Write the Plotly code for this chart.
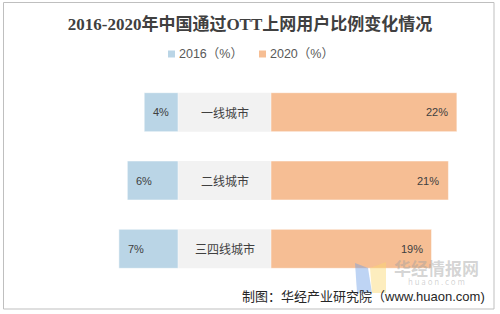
import plotly.graph_objects as go

# ---------------- data ----------------
categories = ["一线城市", "二线城市", "三四线城市"]
series_names = ["2016（%）", "2020（%）"]
values_2016 = [4, 6, 7]
values_2020 = [22, 21, 19]
title_text = "2016-2020年中国通过OTT上网用户比例变化情况"
source_text = "制图：华经产业研究院（www.huaon.com)"

# ---------------- style ----------------
GAP = 11.0               # width of the central label box (in % units)
BLUE = "#bad5e6"
ORANGE = "#f6be94"
GREY = "#f2f2f2"
TXT = "#404040"
W, H = 500, 314
ML, MR, MT, MB = 0, 0, 78, 31
PX_PER_UNIT = 8.45
CENTER_PX = 224.5
PLOT_H = H - MT - MB


def xp(px):
    return (px - ML) / (W - ML - MR)


def yp(py):
    return (H - MB - py) / PLOT_H


fig = go.Figure()

# central grey label box
fig.add_trace(go.Bar(
    y=categories, x=[GAP] * len(categories), base=-GAP / 2,
    orientation="h", marker=dict(color=GREY, line=dict(width=0)),
    width=0.57, showlegend=False, hoverinfo="skip"))

# 2016 bars (to the left)
fig.add_trace(go.Bar(
    y=categories, x=[-v for v in values_2016], base=-GAP / 2,
    orientation="h", name=series_names[0],
    marker=dict(color=BLUE, line=dict(color="white", width=0.5)),
    width=0.57, showlegend=False))

# 2020 bars (to the right)
fig.add_trace(go.Bar(
    y=categories, x=values_2020, base=GAP / 2,
    orientation="h", name=series_names[1],
    marker=dict(color=ORANGE, line=dict(color="white", width=0.5)),
    width=0.57, showlegend=False))

annotations = []
for c, v in zip(categories, values_2016):
    annotations.append(dict(x=-(GAP / 2 + v), y=c, xref="x", yref="y",
                            text=f"{v}%", showarrow=False, xanchor="left",
                            xshift=7, font=dict(size=11, color=TXT,
                                                family="Liberation Sans, Arial")))
for c, v in zip(categories, values_2020):
    annotations.append(dict(x=GAP / 2 + v, y=c, xref="x", yref="y",
                            text=f"{v}%", showarrow=False, xanchor="right",
                            xshift=-7, font=dict(size=11, color=TXT,
                                                 family="Liberation Sans, Arial")))
for c in categories:
    annotations.append(dict(x=0, y=c, xref="x", yref="y", text=c,
                            showarrow=False, xanchor="center",
                            font=dict(size=12, color=TXT,
                                      family="Noto Sans CJK SC")))

# legend (custom, tight like the reference)
shapes = []
leg_items = [(series_names[0], BLUE, 168), (series_names[1], ORANGE, 259)]
for name, col, px in leg_items:
    shapes.append(dict(type="rect", xref="paper", yref="paper",
                       x0=xp(px), x1=xp(px + 7), y0=yp(57.5), y1=yp(50.5),
                       fillcolor=col, line=dict(width=0)))
    annotations.append(dict(x=xp(px + 9), y=yp(54), xref="paper", yref="paper",
                            text=name, showarrow=False, xanchor="left",
                            yanchor="middle",
                            font=dict(size=12.5, color="#595959",
                                      family="Liberation Sans, Noto Sans CJK SC")))

# source
annotations.append(dict(x=xp(487), y=yp(296), xref="paper", yref="paper",
                        text=source_text, showarrow=False, xanchor="right",
                        yanchor="middle",
                        font=dict(size=13, color="#262626",
                                  family="Liberation Sans, Noto Sans CJK SC")))

# watermark (single two-line text block, tight line spacing)
annotations.append(dict(x=xp(436), y=yp(288), xref="paper", yref="paper",
                        text="<span style='font-size:17px'><b>华经情报网</b></span><br>h u a o n . c o m",
                        showarrow=False, xanchor="center", yanchor="bottom",
                        align="center", borderpad=0,
                        font=dict(size=8, color="rgba(160,160,160,0.45)",
                                  family="Noto Sans CJK SC")))
shapes.append(dict(type="path", xref="paper", yref="paper",
                   path=f"M {xp(355)} {yp(263)} L {xp(368)} {yp(268)} "
                        f"L {xp(372)} {yp(293)} L {xp(357)} {yp(293)} Z",
                   fillcolor="rgba(110,160,230,0.45)", line=dict(width=0)))
shapes.append(dict(type="path", xref="paper", yref="paper",
                   path=f"M {xp(370)} {yp(268)} L {xp(386)} {yp(262)} "
                        f"L {xp(386)} {yp(293)} L {xp(372)} {yp(293)} Z",
                   fillcolor="rgba(250,215,110,0.45)", line=dict(width=0)))

# outer border
shapes.append(dict(type="rect", xref="paper", yref="paper",
                   x0=xp(3.5), x1=xp(494), y0=yp(309), y1=yp(2.5),
                   line=dict(color="#bfbfbf", width=1), fillcolor="rgba(0,0,0,0)"))

fig.update_layout(
    width=W, height=H,
    margin=dict(l=ML, r=MR, t=MT, b=MB, pad=0),
    paper_bgcolor="white", plot_bgcolor="white",
    barmode="overlay",
    title=dict(text=f"<b>{title_text}</b>", x=0.5, xanchor="center",
               y=1 - 24 / H, yanchor="middle", yref="container",
               font=dict(size=17, color="#404040",
                         family="Liberation Serif, Noto Sans CJK SC")),
    xaxis=dict(range=[-CENTER_PX / PX_PER_UNIT, (W - CENTER_PX) / PX_PER_UNIT],
               visible=False, fixedrange=True),
    yaxis=dict(categoryorder="array", categoryarray=categories,
               range=[len(categories) - 0.5, -0.5], visible=False,
               fixedrange=True),
    annotations=annotations,
    shapes=shapes,
    showlegend=False,
)

fig.write_html("out.html")
